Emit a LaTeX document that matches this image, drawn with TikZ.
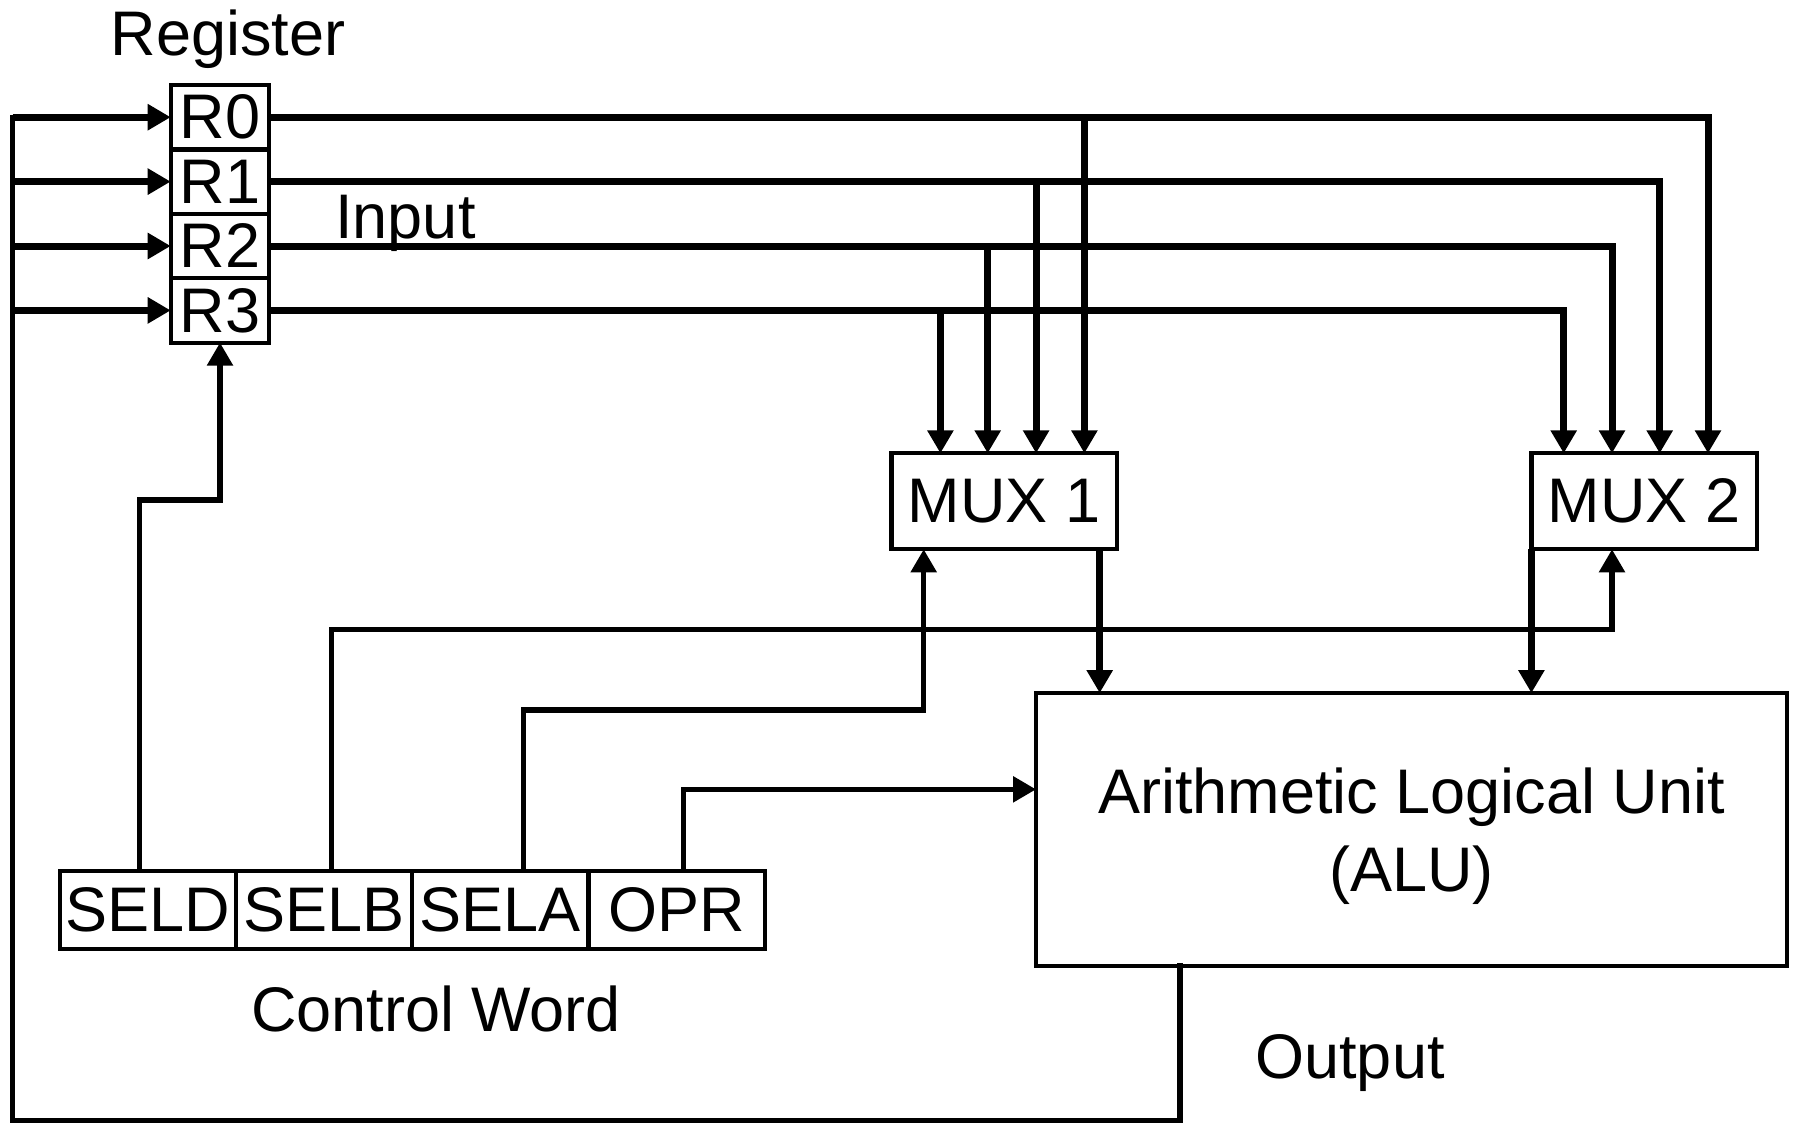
\documentclass[tikz,border=0pt]{standalone}
\usepackage{fontspec}
\setmainfont{Liberation Sans}
\usetikzlibrary{arrows.meta,calc}
\begin{document}
\begin{tikzpicture}[x=0.5pt,y=-0.5pt,
  font=\fontsize{31.5}{38.8}\selectfont,
  box/.style={draw,line width=2.1pt,inner sep=0pt,outer sep=0pt,anchor=center},
  reg/.style={box,minimum width=49.3pt,minimum height=32.2pt},
  cw/.style={box,minimum width=88.1pt,minimum height=39.15pt},
  mux/.style={box,minimum width=112.8pt,minimum height=48pt},
  bus/.style={line width=3.5pt,-{Triangle[length=11.5pt,width=12.5pt]}},
  ctl/.style={line width=2.7pt,-{Triangle[length=11.5pt,width=12.5pt]}},
  wire/.style={line width=2.7pt},
  lbl/.style={anchor=base,inner sep=0pt}
]
\useasboundingbox (0,0) rectangle (1793,1124);

% register file
\node[reg] (r0) at (220,117.2) {R0};
\node[reg] (r1) at (220,181.6) {R1};
\node[reg] (r2) at (220,246.0) {R2};
\node[reg] (r3) at (220,310.4) {R3};

% multiplexers
\node[mux] (mux1) at (1004.2,501.3) {MUX 1};
\node[mux] (mux2) at (1644.2,501.3) {MUX 2};

% ALU
\node[box,minimum width=375.65pt,minimum height=136.35pt,align=center,text depth=0pt] (alu) at (1411.7,829.4) {Arithmetic Logical Unit\\(ALU)};

% control word
\node[cw] (seld) at (147.85,909.9) {SELD};
\node[cw] (selb) at (323.7,909.9) {SELB};
\node[cw] (sela) at (500,909.9) {SELA};
\node[cw] (opr) at (676.65,909.9) {OPR};

% labels
\node[lbl] (reglbl) at (228,55.5) {Register};
\node[lbl,anchor=base west] (inlbl) at (335,238.3) {Input};
\node[lbl] (cwlbl) at (436,1031.7) {Control Word};
\node[lbl,anchor=base west] (outlbl) at (1255,1078) {Output};

% MUX input points
\coordinate (m1a) at ($(mux1.north west)+(49,0)$);
\coordinate (m1b) at ($(mux1.north west)+(96.3,0)$);
\coordinate (m1c) at ($(mux1.north west)+(144.7,0)$);
\coordinate (m1d) at ($(mux1.north west)+(193,0)$);
\coordinate (m2a) at ($(mux2.north west)+(32.3,0)$);
\coordinate (m2b) at ($(mux2.north west)+(80.6,0)$);
\coordinate (m2c) at ($(mux2.north west)+(128.3,0)$);
\coordinate (m2d) at ($(mux2.north west)+(176.6,0)$);

% register outputs to MUX 2 with branches to MUX 1
\draw[bus] (r0.east) -| (m2d);
\draw[bus] (r1.east) -| (m2c);
\draw[bus] (r2.east) -| (m2b);
\draw[bus] (r3.east) -| (m2a);
\draw[bus] (m1d |- r0.east) -- (m1d);
\draw[bus] (m1c |- r1.east) -- (m1c);
\draw[bus] (m1b |- r2.east) -- (m1b);
\draw[bus] (m1a |- r3.east) -- (m1a);

% MUX outputs to ALU
\coordinate (m1o) at ($(mux1.south east)+(-17.3,0)$);
\draw[bus] (m1o) -- (m1o |- alu.north);
\draw[bus] (mux2.south west) -- (mux2.south west |- alu.north);

% ALU output fed back to the registers
\coordinate (aluout) at ($(alu.south west)+(144,0)$);
\coordinate (fbb) at (12.5,1120.5);
\draw[wire,line cap=rect] (aluout) |- (fbb) -- (fbb |- r0.west);
\draw[bus] (fbb |- r0.west) -- (r0.west);
\draw[bus] (fbb |- r1.west) -- (r1.west);
\draw[bus] (fbb |- r2.west) -- (r2.west);
\draw[bus] (fbb |- r3.west) -- (r3.west);

% control lines
\draw[ctl] ($(seld.north west)+(80,0)$) |- ($(r3.south)+(0,157.3)$) -- (r3.south);
\draw[ctl] ($(selb.north west)+(96,0)$) |- ($(mux2.south west)+(80.6,80)$) -- ($(mux2.south west)+(80.6,0)$);
\draw[ctl] ($(sela.north west)+(111.6,0)$) |- ($(mux1.south west)+(32.3,160.7)$) -- ($(mux1.south west)+(32.3,0)$);
\draw[ctl] ($(opr.north west)+(95,0)$) |- ($(alu.north west)+(0,96.3)$);
\end{tikzpicture}
\end{document}
